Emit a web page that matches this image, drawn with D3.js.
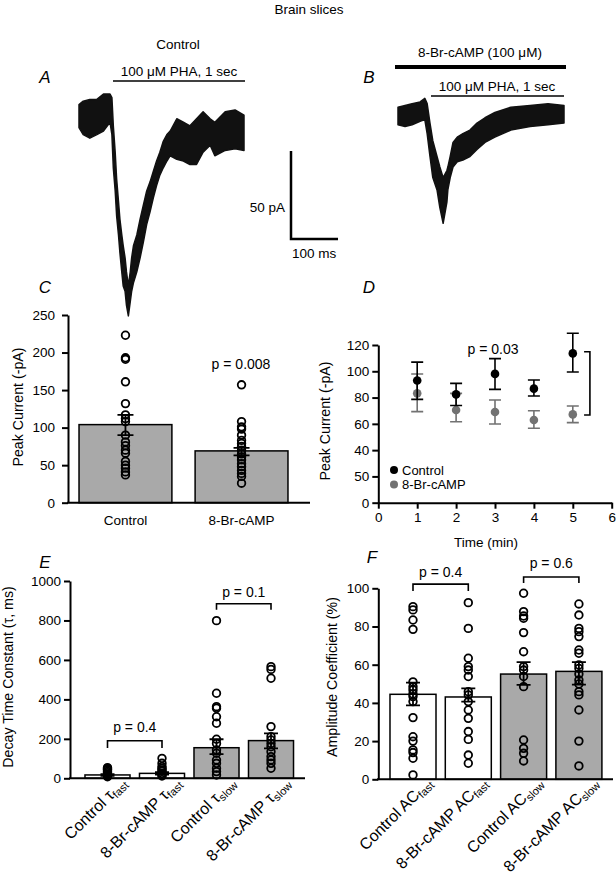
<!DOCTYPE html>
<html><head><meta charset="utf-8">
<script src="https://cdn.jsdelivr.net/npm/d3@7"></script>
<style>
body{margin:0;background:#fff}
svg{display:block;font-family:"Liberation Sans",Arial,Helvetica,sans-serif}
</style></head><body>
<svg id="fig" width="616" height="877"></svg>
<script>
// ---------- DATA ----------
// Panel A trace (time ms, envelope upper / lower current pA)
const traceA_t  = [0,9,23,38,52,66,70,73,77,80,84,87,91,94,98,101,105,109,112,116,123,130,137,144,151,158,165,172,179,187,194,208,222,236,250,264,279,289,311,332,351];
const traceA_hi = [7,9,10,10,13,13,11,-5,-20,-35,-48,-58,-67,-73,-80,-88,-96,-88,-80,-73,-67,-58,-50,-42,-37,-31,-25,-20,-14,-10,-8,-1,-3,-5,-1,3,-1,-3,3,4,1];
const traceA_lo = [-6,-10,-12,-10,-8,-3,-10,-29,-42,-56,-67,-77,-88,-96,-99,-107,-113,-105,-99,-94,-88,-80,-71,-61,-54,-46,-39,-33,-29,-25,-22,-24,-25,-27,-27,-20,-16,-22,-19,-18,-19];
// Panel B trace
const traceB_t  = [0,15,30,47,57,62,68,74,83,89,96,104,106,111,117,126,138,153,168,185,206,240,281,319,353];
const traceB_hi = [5,6,7,8,10,7,-4,-14,-23,-29,-35,-31,-29,-23,-15,-12,-10,-8,-4,-1,2,5,6,7,6];
const traceB_lo = [-5,-6,-5,-3,-2,-10,-23,-35,-42,-52,-61,-49,-42,-35,-29,-26,-25,-23,-19,-15,-12,-8,-6,-5,-4];

// Panel C
const cCats = ["Control","8-Br-cAMP"];
const cMeans = [104,69];
const cHi = [117,73];
const cLo = [90,63];
const cDots = [
  [223,193,191,161,132,117,112,108,90,81,76,70,66,55,50,46,41,37],
  [157,108,101,98,90,83,79,75,70,65,61,57,52,48,43,39,35,26]
];
const cTicks = [0,50,100,150,200,250];

// Panel D
const dTime = [1,2,3,4,5];
const dCtrl = [93,82.4,98,86.8,113.6];
const dCtrlHi = [107,90.8,109.6,93.4,128.9];
const dCtrlLo = [78.6,74,86.2,81.2,99.4];
const dBr = [83.2,70.5,69,62.9,67.2];
const dBrHi = [97.9,83.2,78.1,70,73.6];
const dBrLo = [69.3,61.6,59.9,56.6,60.9];
const dYTicks = [0,20,40,60,80,100,120];
const dYTickLabels = ["0","50","40","60","80","100","120"];
const dXTicks = [0,1,2,3,4,5,6];

// Panel E
const eCats = ["ctrlFast","brFast","ctrlSlow","brSlow"];
const eLabelMain = ["Control \u03C4","8-Br-cAMP \u03C4","Control \u03C4","8-Br-cAMP \u03C4"];
const eLabelSub = ["fast","fast","slow","slow"];
const eMeans = [17,25,155,191];
const eHi = [21,31,198,228];
const eLo = [13,19,123,152];
const eDots = [
  [54,50,45,42,35,29,22,17,12,8],
  [101,76,59,50,42,35,25,17,12],
  [799,431,363,355,312,279,198,177,144,127,93,76,51,34,17],
  [566,552,507,262,211,194,177,160,135,110,93,76,51]
];
const eTicks = [0,200,400,600,800,1000];

// Panel F
const fCats = ["ctrlFast","brFast","ctrlSlow","brSlow"];
const fLabelMain = ["Control AC","8-Br-cAMP AC","Control AC","8-Br-cAMP AC"];
const fLabelSub = ["fast","fast","slow","slow"];
const fMeans = [44.5,43.1,55.1,56.5];
const fHi = [50.6,47.6,61.3,61.3];
const fLo = [38.7,40.7,49.4,49.6];
const fDots = [
  [90.4,88.7,83.4,78.5,51,48.5,46.8,44.7,43.3,40.7,32.3,22.3,20,15.4,14,11,2.3],
  [92.5,79,63.4,59,57.2,53.8,45.9,44.2,40.7,36.3,31.9,25,20.9,12.7,8.4],
  [97.4,87.8,85.5,84.3,76.8,66.8,59,57.2,53.8,48.5,20.6,16.2,13.6,9.6],
  [91.8,86,79,77.3,74.7,67.7,66,59.9,58.1,55.1,52,49.9,45.9,44.2,36.3,20,7]
];
const fTicks = [0,20,40,60,80,100];

// ---------- DRAW ----------
const svg = d3.select("#fig");
const FS = 13.5;
const TFS = 14.2;
const BAR_GRAY = "#a9a9a9";
const D_GRAY = "#727272";
const fmtInt = d3.format("d");

function text(x,y,s,anchor="middle",size=FS,extra={}) {
  const t = svg.append("text").attr("x",x).attr("y",y).attr("text-anchor",anchor)
    .attr("font-size",size).attr("fill","#000").text(s);
  for (const k in extra) t.attr(k, extra[k]);
  return t;
}
function styleAxis(g) {
  g.attr("font-size",FS).attr("font-family",null);
  g.select(".domain").attr("stroke","#000").attr("stroke-width",2);
  g.selectAll(".tick line").attr("stroke","#000").attr("stroke-width",2);
  g.selectAll(".tick text").attr("fill","#000");
}
function vlabel(x,y,s){
  return svg.append("text").attr("transform",`translate(${x},${y}) rotate(-90)`)
    .attr("text-anchor","middle").attr("font-size",TFS).text(s);
}
function letter(x,y,s){ text(x,y,s,"middle",17,{"font-style":"italic"}); }
function errbar(cx,yt,yb,w,col,sw){
  svg.append("path").attr("d",`M${cx-w/2},${yt}H${cx+w/2}M${cx},${yt}V${yb}M${cx-w/2},${yb}H${cx+w/2}`)
    .attr("fill","none").attr("stroke",col).attr("stroke-width",sw);
}
function bracket(x1,x2,yTop,yLeg,col){
  svg.append("path").attr("d",`M${x1},${yLeg}V${yTop}H${x2}V${yLeg}`).attr("fill","none").attr("stroke",col||"#000").attr("stroke-width",1.6);
}
function rotLabel(x,y,main,sub){
  const t = svg.append("text").attr("transform",`translate(${x},${y}) rotate(-45)`).attr("text-anchor","end").attr("font-size",16);
  t.append("tspan").text(main);
  t.append("tspan").attr("font-size",11).attr("dy",3).text(sub);
}

text(309,14,"Brain slices");

// ---- Panel A / B traces ----
const xA = d3.scaleLinear().domain([0,351]).range([79,244]);
const yA = d3.scaleLinear().domain([0,-50]).range([117,205]);
const xB = d3.scaleLinear().domain([0,353]).range([398,564]);
const yB = d3.scaleLinear().domain([0,-50]).range([116,204]);

const areaA = d3.area().x((d,i)=>xA(traceA_t[i])).y0((d,i)=>yA(traceA_lo[i])).y1((d,i)=>yA(traceA_hi[i]));
svg.append("path").datum(traceA_t).attr("d",areaA).attr("fill","#111").attr("stroke","#111").attr("stroke-width",1.5).attr("stroke-linejoin","round");
const areaB = d3.area().x((d,i)=>xB(traceB_t[i])).y0((d,i)=>yB(traceB_lo[i])).y1((d,i)=>yB(traceB_hi[i]));
svg.append("path").datum(traceB_t).attr("d",areaB).attr("fill","#111").attr("stroke","#111").attr("stroke-width",1.5).attr("stroke-linejoin","round");

letter(45,83,"A");
letter(369,83,"B");
text(178,49,"Control");
text(179,76,"100 \u03BCM PHA, 1 sec");
svg.append("line").attr("x1",113).attr("x2",245).attr("y1",81).attr("y2",81).attr("stroke","#000").attr("stroke-width",1.5);
text(480,57,"8-Br-cAMP (100 \u03BCM)");
svg.append("line").attr("x1",395).attr("x2",566).attr("y1",67).attr("y2",67).attr("stroke","#000").attr("stroke-width",4);
text(497,91,"100 \u03BCM PHA, 1 sec");
svg.append("line").attr("x1",431).attr("x2",564).attr("y1",96).attr("y2",96).attr("stroke","#000").attr("stroke-width",1.5);

// scale bar (50 pA, 100 ms) using trace scales
const sbX = 291, sbY = 239;
const sbW = xA(100)-xA(0), sbH = yA(-50)-yA(0);
svg.append("path").attr("d",`M${sbX},${sbY-sbH}V${sbY}H${sbX+sbW}`).attr("fill","none").attr("stroke","#000").attr("stroke-width",2.5);
text(sbX-6,212,"50 pA","end");
text(sbX+1,258,"100 ms","start");

// ---- Panel C ----
letter(45,293,"C");
const xC = d3.scaleBand().domain(cCats).range([68,299]).paddingInner(0.2).paddingOuter(0.095);
const yC = d3.scaleLinear().domain([0,250]).range([502.7,315]);
cCats.forEach((c,i)=>{
  svg.append("rect").attr("x",xC(c)).attr("y",yC(cMeans[i])).attr("width",xC.bandwidth()).attr("height",yC(0)-yC(cMeans[i]))
    .attr("fill",BAR_GRAY).attr("stroke","#000").attr("stroke-width",1.5);
});
cCats.forEach((c,i)=>{
  const cx = xC(c)+xC.bandwidth()/2;
  svg.selectAll(null).data(cDots[i]).enter().append("circle").attr("cx",cx).attr("cy",d=>yC(d)).attr("r",3.8)
    .attr("fill","none").attr("stroke","#000").attr("stroke-width",1.8);
  errbar(cx,yC(cHi[i]),yC(cLo[i]),16,"#000",1.8);
});
const gCy = svg.append("g").attr("transform","translate(68,0)").call(d3.axisLeft(yC).tickValues(cTicks).tickFormat(fmtInt).tickSize(6).tickSizeOuter(0).tickPadding(7));
styleAxis(gCy);
svg.append("line").attr("x1",67).attr("x2",310).attr("y1",yC(0)).attr("y2",yC(0)).attr("stroke","#000").attr("stroke-width",2);
cCats.forEach(c=>text(xC(c)+xC.bandwidth()/2,525,c));
vlabel(23,407,"Peak Current (-pA)");
text(241,369,"p = 0.008","middle",14);

// ---- Panel D ----
letter(369,293,"D");
const xD = d3.scaleLinear().domain([0,6]).range([378.3,611.7]);
const yD = d3.scaleLinear().domain([0,120]).range([502.7,345]);
const gDy = svg.append("g").attr("transform","translate(378.3,0)").call(d3.axisLeft(yD).tickValues(dYTicks).tickFormat((d,i)=>dYTickLabels[i]).tickSize(6).tickSizeOuter(0).tickPadding(3));
styleAxis(gDy);
const gDx = svg.append("g").attr("transform",`translate(0,${yD(0)})`).call(d3.axisBottom(xD).tickValues(dXTicks).tickFormat(fmtInt).tickSize(6).tickSizeOuter(0).tickPadding(4));
styleAxis(gDx);
dTime.forEach((t,i)=>errbar(xD(t),yD(dBrHi[i]),yD(dBrLo[i]),12,D_GRAY,1.6));
svg.selectAll(null).data(dTime).enter().append("circle").attr("cx",d=>xD(d)).attr("cy",(d,i)=>yD(dBr[i])).attr("r",4.3).attr("fill",D_GRAY);
dTime.forEach((t,i)=>errbar(xD(t),yD(dCtrlHi[i]),yD(dCtrlLo[i]),12,"#000",1.6));
svg.selectAll(null).data(dTime).enter().append("circle").attr("cx",d=>xD(d)).attr("cy",(d,i)=>yD(dCtrl[i])).attr("r",4.3).attr("fill","#000");
// significance bracket at t=5
svg.append("path").attr("d",`M${xD(5.29)},${yD(dCtrl[4]+1.3)}H${xD(5.44)}V${yD(dBr[4]-0.5)}H${xD(5.29)}`).attr("fill","none").attr("stroke","#000").attr("stroke-width",1.6);
text(493,354,"p = 0.03","middle",14);
vlabel(329.5,421,"Peak Current (-pA)");
text(486,547,"Time (min)");
// legend
svg.append("circle").attr("cx",394).attr("cy",470).attr("r",4).attr("fill","#000");
text(402,474.5,"Control","start",13);
svg.append("circle").attr("cx",394).attr("cy",484.5).attr("r",4).attr("fill",D_GRAY);
text(402,489,"8-Br-cAMP","start",13);

// ---- Panel E ----
letter(45,568,"E");
const xE = d3.scaleBand().domain(eCats).range([75.5,303]).padding(0.174);
const yE = d3.scaleLinear().domain([0,1000]).range([778.3,581]);
eCats.forEach((c,i)=>{
  svg.append("rect").attr("x",xE(c)).attr("y",yE(eMeans[i])).attr("width",xE.bandwidth()).attr("height",yE(0)-yE(eMeans[i]))
    .attr("fill",i<2?"#fff":BAR_GRAY).attr("stroke","#000").attr("stroke-width",1.5);
});
eCats.forEach((c,i)=>{
  const cx = xE(c)+xE.bandwidth()/2;
  svg.selectAll(null).data(eDots[i]).enter().append("circle").attr("cx",cx).attr("cy",d=>yE(d)).attr("r",3.8)
    .attr("fill","none").attr("stroke","#000").attr("stroke-width",1.8);
  errbar(cx,yE(eHi[i]),yE(eLo[i]),14,"#000",1.8);
});
const gEy = svg.append("g").attr("transform","translate(70,0)").call(d3.axisLeft(yE).tickValues(eTicks).tickFormat(fmtInt).tickSize(6).tickSizeOuter(0).tickPadding(3));
styleAxis(gEy);
svg.append("line").attr("x1",69).attr("x2",305).attr("y1",yE(0)).attr("y2",yE(0)).attr("stroke","#000").attr("stroke-width",2);
eCats.forEach((c,i)=>rotLabel(xE(c)+xE.bandwidth()/2+20,784,eLabelMain[i],eLabelSub[i]));
vlabel(13,677,"Decay Time Constant (\u03C4, ms)");
{
  const c0 = xE(eCats[0])+xE.bandwidth()/2, c1 = xE(eCats[1])+xE.bandwidth()/2;
  bracket(c0,c1,yE(190),yE(154));
  text((c0+c1)/2,732,"p = 0.4","middle",14);
  const c2 = xE(eCats[2])+xE.bandwidth()/2, c3 = xE(eCats[3])+xE.bandwidth()/2;
  bracket(c2,c3,yE(885),yE(854));
  text((c2+c3)/2,597,"p = 0.1","middle",14);
}

// ---- Panel F ----
letter(372,563,"F");
const xF = d3.scaleBand().domain(fCats).range([380.7,611.2]).padding(0.168);
const yF = d3.scaleLinear().domain([0,100]).range([779.3,588.3]);
fCats.forEach((c,i)=>{
  svg.append("rect").attr("x",xF(c)).attr("y",yF(fMeans[i])).attr("width",xF.bandwidth()).attr("height",yF(0)-yF(fMeans[i]))
    .attr("fill",i<2?"#fff":BAR_GRAY).attr("stroke","#000").attr("stroke-width",1.5);
});
fCats.forEach((c,i)=>{
  const cx = xF(c)+xF.bandwidth()/2;
  svg.selectAll(null).data(fDots[i]).enter().append("circle").attr("cx",cx).attr("cy",d=>yF(d)).attr("r",3.8)
    .attr("fill","none").attr("stroke","#000").attr("stroke-width",1.8);
  errbar(cx,yF(fHi[i]),yF(fLo[i]),14,"#000",1.8);
});
const gFy = svg.append("g").attr("transform","translate(378.3,0)").call(d3.axisLeft(yF).tickValues(fTicks).tickFormat(fmtInt).tickSize(6).tickSizeOuter(0).tickPadding(3));
styleAxis(gFy);
svg.append("line").attr("x1",377).attr("x2",613).attr("y1",yF(0)).attr("y2",yF(0)).attr("stroke","#000").attr("stroke-width",2);
fCats.forEach((c,i)=>rotLabel(xF(c)+xF.bandwidth()/2+20,784,fLabelMain[i],fLabelSub[i]));
vlabel(336.5,677,"Amplitude Coefficient (%)");
{
  const c0 = xF(fCats[0])+xF.bandwidth()/2, c1 = xF(fCats[1])+xF.bandwidth()/2;
  bracket(c0,c1,yF(102.2),yF(98.6));
  text((c0+c1)/2,577,"p = 0.4","middle",14);
  const c2 = xF(fCats[2])+xF.bandwidth()/2, c3 = xF(fCats[3])+xF.bandwidth()/2;
  bracket(c2,c3,yF(105.9),yF(102.8));
  text((c2+c3)/2,568,"p = 0.6","middle",14);
}
</script></body></html>
